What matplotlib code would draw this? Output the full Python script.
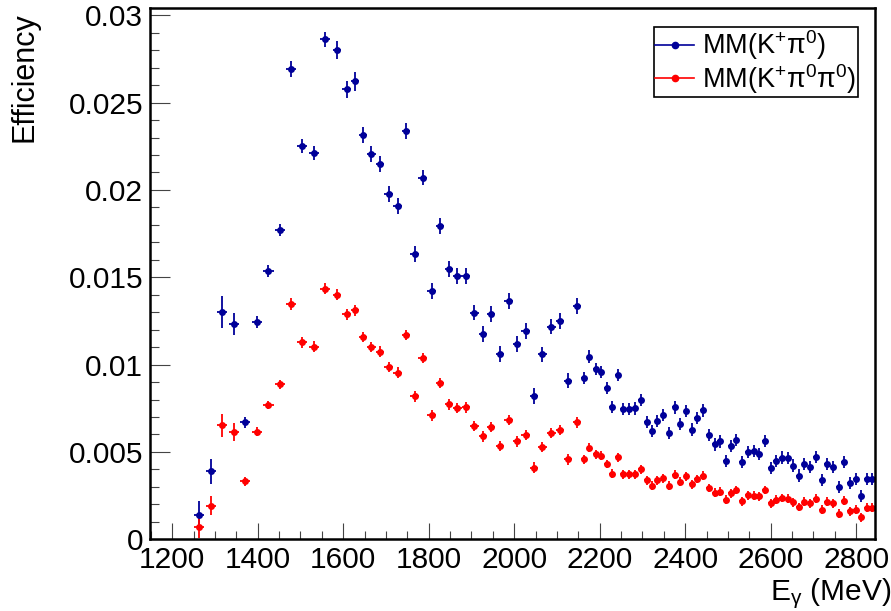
"""
Efficiency vs photon energy for the two missing-mass selections,
drawn to look like the ROOT canvas it came from.
"""
import matplotlib
matplotlib.use("Agg")
import matplotlib.pyplot as plt
from matplotlib.lines import Line2D
from matplotlib.ticker import MultipleLocator

plt.rcParams["font.family"] = ["Liberation Sans", "DejaVu Sans"]
plt.rcParams["mathtext.fontset"] = "custom"
plt.rcParams["mathtext.rm"] = "Liberation Sans"
plt.rcParams["mathtext.it"] = "Liberation Sans:italic"
plt.rcParams["mathtext.default"] = "regular"

# photon energy bin centres (MeV)
e_gamma = [
    1263, 1290, 1317, 1345, 1371, 1398, 1425, 1452, 1478, 1504, 1531, 1557,
    1585, 1608, 1628, 1646, 1666, 1686, 1706, 1727, 1747, 1767, 1786, 1807,
    1826, 1847, 1867, 1887, 1907, 1927, 1946, 1967, 1987, 2006, 2027, 2046,
    2066, 2087, 2107, 2126, 2147,
    2163, 2176, 2191, 2204, 2217, 2229, 2243, 2254, 2268, 2282, 2296, 2310,
    2323, 2335, 2349, 2363, 2376, 2389, 2403, 2415, 2428, 2441, 2456, 2470,
    2481, 2495, 2507, 2520, 2533, 2547, 2561, 2573, 2587, 2600, 2613, 2626,
    2640, 2653, 2666, 2679, 2693, 2706, 2720, 2732, 2746, 2759, 2772, 2785,
    2799, 2812, 2825, 2838,
]
# half bin widths: wide bins at low energy, narrow ones above ~2150 MeV
e_err = [12] * 12 + [10] * 29 + [6.5] * 52

eff_kpi0 = [
    0.00139, 0.00390, 0.01302, 0.01233, 0.00669, 0.01243, 0.01536, 0.01772,
    0.02693, 0.02254, 0.02209, 0.02863, 0.02800, 0.02576, 0.02623, 0.02313,
    0.02205, 0.02149, 0.01975, 0.01907, 0.02338, 0.01635, 0.02071, 0.01423,
    0.01795, 0.01548, 0.01507, 0.01509, 0.01298, 0.01177, 0.01288, 0.01062,
    0.01364, 0.01118, 0.01192, 0.00820, 0.01058, 0.01218, 0.01251, 0.00909,
    0.01335, 0.00923, 0.01046, 0.00976, 0.00956, 0.00868, 0.00759, 0.00939,
    0.00747, 0.00747, 0.00749, 0.00796, 0.00673, 0.00621, 0.00677, 0.00710,
    0.00607, 0.00755, 0.00662, 0.00734, 0.00628, 0.00693, 0.00738, 0.00595,
    0.00543, 0.00560, 0.00447, 0.00533, 0.00570, 0.00443, 0.00502, 0.00505,
    0.00488, 0.00564, 0.00410, 0.00447, 0.00468, 0.00464, 0.00422, 0.00365,
    0.00431, 0.00416, 0.00472, 0.00338, 0.00431, 0.00416, 0.00299, 0.00443,
    0.00324, 0.00345, 0.00246, 0.00345, 0.00345,
]
eff_kpi0_err = (
    [0.00078, 0.00072, 0.00092, 0.00062, 0.00031, 0.00035, 0.00035, 0.00034,
     0.00047, 0.00040, 0.00040, 0.00042, 0.00050, 0.00050, 0.00055, 0.00045]
    + [0.00045] * 25 + [0.00035] * 52
)

eff_kpi0pi0 = [
    0.00070, 0.00193, 0.00652, 0.00613, 0.00332, 0.00617, 0.00769, 0.00888,
    0.01345, 0.01128, 0.01103, 0.01434, 0.01401, 0.01288, 0.01311, 0.01157,
    0.01101, 0.01075, 0.00986, 0.00954, 0.01169, 0.00818, 0.01038, 0.00710,
    0.00896, 0.00773, 0.00751, 0.00755, 0.00650, 0.00589, 0.00644, 0.00533,
    0.00683, 0.00560, 0.00597, 0.00410, 0.00529, 0.00609, 0.00626, 0.00457,
    0.00669, 0.00457, 0.00525, 0.00486, 0.00478, 0.00431, 0.00375, 0.00470,
    0.00371, 0.00371, 0.00371, 0.00400, 0.00338, 0.00308, 0.00338, 0.00349,
    0.00308, 0.00369, 0.00330, 0.00361, 0.00314, 0.00345, 0.00365, 0.00293,
    0.00267, 0.00273, 0.00226, 0.00263, 0.00283, 0.00217, 0.00252, 0.00250,
    0.00246, 0.00283, 0.00205, 0.00226, 0.00236, 0.00232, 0.00211, 0.00185,
    0.00215, 0.00205, 0.00232, 0.00170, 0.00215, 0.00205, 0.00146, 0.00221,
    0.00160, 0.00170, 0.00125, 0.00180, 0.00180,
]
eff_kpi0pi0_err = (
    [0.00062, 0.00055, 0.00066, 0.00050, 0.00025, 0.00025, 0.00025, 0.00025,
     0.00034, 0.00030, 0.00030, 0.00032]
    + [0.00030] * 29 + [0.00025] * 52
)

labels = [r"MM(K$^{+}$π$^{0}$)", r"MM(K$^{+}$π$^{0}$π$^{0}$)"]
colors = ["#000099", "#ff0000"]

W, H = 891, 611
fig = plt.figure(figsize=(W / 100, H / 100), dpi=100)
ax = fig.add_axes([150 / W, 1 - 539.3 / H, 725 / W, 531 / H])

for y, yerr, col in [(eff_kpi0, eff_kpi0_err, colors[0]),
                     (eff_kpi0pi0, eff_kpi0pi0_err, colors[1])]:
    ax.errorbar(e_gamma, y, xerr=e_err, yerr=yerr, fmt="o", color=col,
                markersize=5, elinewidth=1.3, capsize=2.2, capthick=1.3,
                markeredgewidth=0)

ax.set_xlim(1148, 2844)
ax.set_ylim(0, 0.0304)

ax.xaxis.set_major_locator(MultipleLocator(200))
ax.xaxis.set_minor_locator(MultipleLocator(50))
ax.yaxis.set_major_locator(MultipleLocator(0.005))
ax.yaxis.set_minor_locator(MultipleLocator(0.001))
ax.yaxis.set_major_formatter(
    matplotlib.ticker.FuncFormatter(lambda v, p: f"{v:g}"))

ax.tick_params(axis="both", which="both", direction="in", top=False,
               right=False, labelsize=21.5, width=0.8, color="#444444")
ax.tick_params(axis="x", which="major", length=11.5, pad=5)
ax.tick_params(axis="x", which="minor", length=6)
ax.tick_params(axis="y", which="major", length=14.5, pad=5)
ax.tick_params(axis="y", which="minor", length=6.5)
for s in ax.spines.values():
    s.set_linewidth(1.8)

fig.text(770 / W, 1 - 600 / H, r"E$_{γ}$ (MeV)", fontsize=21.5,
         ha="left", va="baseline")
fig.text(25 / W, 1 - 12 / H, "Efficiency", fontsize=22, rotation=90,
         ha="center", va="top")

handles = [Line2D([0], [0], color=c, lw=1.2, marker="o", markersize=4.5)
           for c in colors]
leg = ax.legend(handles, labels, loc="upper right", fontsize=19.5,
                bbox_to_anchor=(858 / W, 1 - 27 / H),
                bbox_transform=fig.transFigure, borderaxespad=0,
                fancybox=False, framealpha=1, edgecolor="black",
                handlelength=1.45, handletextpad=0.3, borderpad=0.05,
                labelspacing=0.0)
leg.get_frame().set_linewidth(1.2)

fig.savefig("out.png", dpi=100)
